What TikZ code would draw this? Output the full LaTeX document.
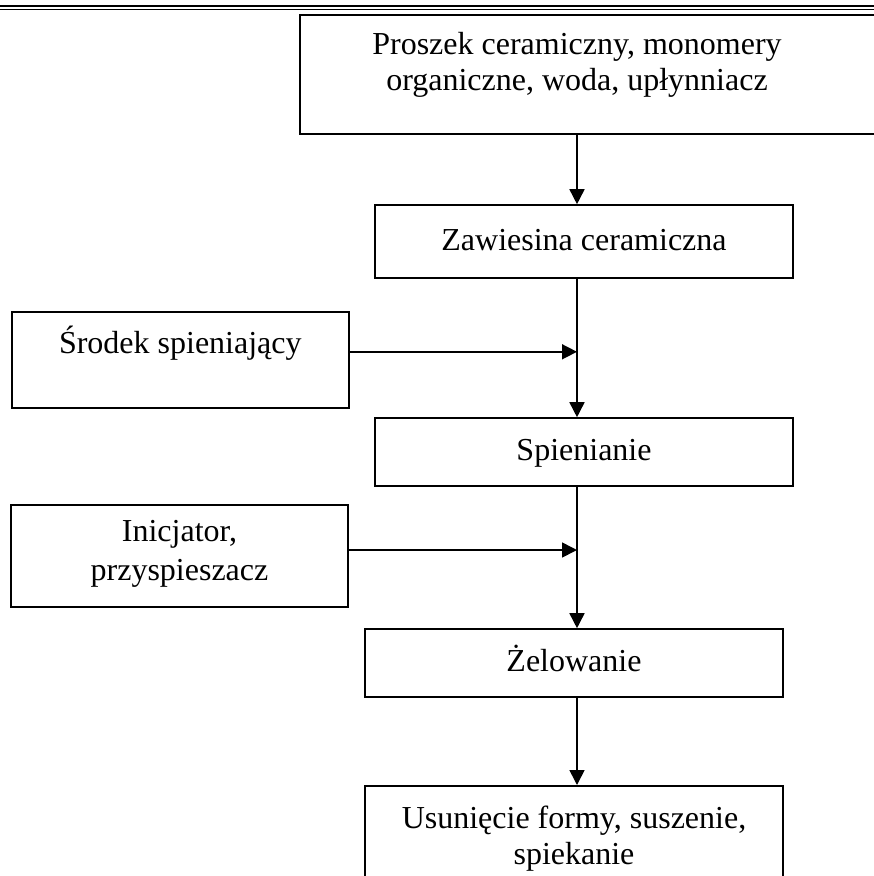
\documentclass[tikz,border=0pt]{standalone}
\usepackage{fontspec}
\setmainfont{Liberation Serif}
\usetikzlibrary{arrows.meta}
\tikzset{
    flow/.style={line width=1.6pt, -{Triangle[length=15pt,width=15pt]}}, % arrows between stages
    }

\begin{document}
\begin{tikzpicture}[x=1pt, y=-1pt,
stage/.style={rectangle, draw=black, line width=1.6pt, inner sep=0pt, minimum width=418pt, font=\fontsize{32}{36}\selectfont},
oneline/.style={stage, text height=22pt, text depth=5pt},
twoline/.style={stage, align=center},
sidebox/.style={stage, minimum width=337pt},
]
\useasboundingbox (0,0) rectangle (874,876);
\clip (0,0) rectangle (874,876);

\draw[line width=2pt] (0,6) -- (874,6);
\draw[line width=1pt] (0,9.5) -- (874,9.5);

\coordinate (axis) at (577,0);

\node[stage, minimum width=600pt, minimum height=119pt] (top) at (600,74.5) {};
\node[align=center, inner sep=0pt, font=\fontsize{32}{36}\selectfont] (topText) at (577,64.5) {Proszek ceramiczny, monomery\\organiczne, woda, upłynniacz};
\node[oneline, minimum height=73pt] (zaw) at (584,241.5) {Zawiesina ceramiczna};
\node[sidebox, text height=42pt, text depth=54pt, anchor=north west] (srodek) at (11,311) {Środek spieniający};
\node[oneline, minimum height=68pt] (spien) at (584,452) {Spienianie};
\node[twoline, sidebox, minimum height=102pt] (inic) at (179.5,556) {Inicjator,\\[3pt]przyspieszacz\rule[-12pt]{0pt}{12pt}};
\node[oneline, minimum height=68pt] (zel) at (574,663) {Żelowanie};
\node[twoline, minimum height=105pt, anchor=north] (usun) at (574,785) {Usunięcie formy, suszenie,\\spiekanie};

\draw[flow] (top.south -| axis) -- (zaw.north -| axis);
\draw[flow] (zaw.south -| axis) -- (spien.north -| axis);
\draw[flow] ([yshift=8pt]srodek.east) -- ([yshift=8pt]srodek.east -| axis);
\draw[flow] (spien.south -| axis) -- (zel.north -| axis);
\draw[flow] ([yshift=6pt]inic.east) -- ([yshift=6pt]inic.east -| axis);
\draw[flow] (zel.south -| axis) -- (usun.north -| axis);

\end{tikzpicture}
\end{document}
